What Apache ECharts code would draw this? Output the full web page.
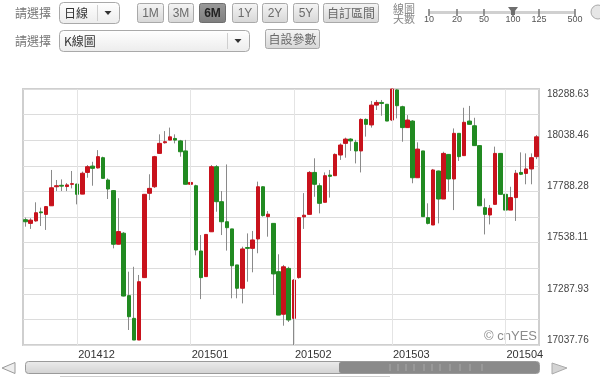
<!DOCTYPE html>
<html><head><meta charset="utf-8">
<script src="https://cdn.jsdelivr.net/npm/echarts@6/dist/echarts.min.js"></script>
<style>html,body{margin:0;padding:0;background:#fff}#c{width:600px;height:377px}</style>
</head><body><div id="c"></div>
<script>
const dates = [
'20141114','20141117','20141118','20141119','20141120','20141121','20141124','20141125','20141126','20141128',
'20141201','20141202','20141203','20141204','20141205','20141208','20141209','20141210','20141211','20141212',
'20141215','20141216','20141217','20141218','20141219','20141222','20141223','20141224','20141226','20141229',
'20141230','20141231','20150102','20150105','20150106','20150107','20150108','20150109','20150112','20150113',
'20150114','20150115','20150116','20150120','20150121','20150122','20150123','20150126','20150127','20150128',
'20150129','20150130','20150202','20150203','20150204','20150205','20150206','20150209','20150210','20150211',
'20150212','20150213','20150217','20150218','20150219','20150220','20150223','20150224','20150225','20150226',
'20150227','20150302','20150303','20150304','20150305','20150306','20150309','20150310','20150311','20150312',
'20150313','20150316','20150317','20150318','20150319','20150320','20150323','20150324','20150325','20150326',
'20150327','20150330','20150331','20150401','20150402','20150406','20150407','20150408','20150409','20150410'];
const opens = [
17650,17632,17644,17688,17676,17718,17811,17818,17812,17823,
17824,17775,17881,17912,17903,17953,17844,17792,17530,17584,
17279,17168,17062,17367,17779,17811,17974,18026,18039,18047,
18035,17986,17823,17816,17497,17372,17591,17909,17738,17640,
17605,17429,17315,17514,17510,17556,17811,17665,17632,17396,
17188,17412,17168,17367,17664,17676,17881,17816,17735,17868,
17865,17966,18023,18044,18028,17986,18140,18113,18210,18223,
18214,18137,18284,18202,18100,18132,17855,17986,17660,17624,
17888,17751,17969,17849,18072,17963,18132,18109,18012,17709,
17673,17725,17974,17774,17697,17758,17881,17876,17898,17958];
const closes = [
17640,17648,17684,17684,17714,17806,17816,17814,17820,17826,
17774,17877,17909,17901,17958,17852,17800,17530,17592,17277,
17176,17062,17347,17774,17803,17958,18023,18031,18055,18039,
17982,17823,17832,17502,17367,17578,17909,17738,17640,17611,
17425,17315,17507,17510,17551,17811,17670,17677,17385,17184,
17420,17160,17355,17660,17672,17881,17823,17730,17865,17862,
17969,18015,18044,18035,17986,18140,18116,18210,18223,18218,
18132,18288.63,18207,18100,18137,17855,17995,17665,17632,17893,
17751,17974,17849,18072,17958,18126,18116,18012,17718,17676,
17706,17974,17774,17697,17758,17877,17872,17898,17953,18055];
const lows = [
17616,17605,17640,17619,17600,17718,17790,17790,17790,17803,
17725,17775,17855,17816,17900,17852,17751,17510,17530,17275,
17111,17062,17062,17367,17746,17805,17974,18022,18039,18023,
17958,17823,17730,17476,17262,17370,17591,17689,17575,17499,
17266,17266,17241,17347,17393,17486,17665,17567,17282,17184,
17132,17150,17037.76,17362,17605,17676,17762,17681,17735,17758,
17865,17942,17953,17986,17925,17881,18056,18100,18186,18158,
18132,18132,18145,18031,18100,17828,17855,17665,17627,17624,
17632,17751,17787,17697,17937,17963,18116,18012,17718,17578,
17627,17725,17774,17583,17697,17644,17868,17823,17823,17946];
const highs = [
17660,17657,17735,17709,17717,17893,17844,17847,17829,17888,
17826,17885,17917,17933,17990,17958,17852,17795,17755,17590,
17396,17420,17380,17774,17872,17962,18067,18083,18100,18067,
18040,18040,17950,17821,17575,17580,17917,17917,17790,17920,
17605,17429,17518,17583,17595,17836,17813,17692,17632,17481,
17429,17420,17360,17662,17780,17888,17950,17828,17881,17893,
17974,18023,18051,18048,18040,18145,18145,18230,18235,18235,
18214,18288.63,18288,18207,18161,18137,18028,17986,17730,17898,
17890,17982,17969,18096,18072,18197,18206,18148,18012,17754,
17722,18007,17974,17774,17811,17893,17979,17974,17974,18064];
const rangeButtons = ['1M','3M','6M','1Y','2Y','5Y','自訂區間'];
const dayTicks = ['10','20','50','100','125','500'];

const UP = '#c8121c', DOWN = '#218a21', WICK = '#8a8a8a';
const yMin = Math.min(...lows), yMax = Math.max(...highs);
const yStep = (yMax - yMin) / 10;
const monthStarts = dates.filter((d, i) => i > 0 && d.slice(4, 6) !== dates[i - 1].slice(4, 6));

const cjk = '"Noto Sans CJK TC","Noto Sans CJK SC",sans-serif';
const lat = '"Liberation Sans",Arial,sans-serif';
function grad(a, b) { return new echarts.graphic.LinearGradient(0, 0, 0, 1, [{offset: 0, color: a}, {offset: 1, color: b}]); }
const G = [];
function text(x, y, s, font, fill, align) { G.push({type: 'text', x: x, y: y, style: {text: s, font: font, fill: fill, align: align || 'left', verticalAlign: 'middle'}}); }
function button(x, y, w, h, label, pressed) {
  G.push({type: 'rect', shape: {x: x + 0.5, y: y + 0.5, width: w, height: h, r: 2},
    style: {fill: pressed ? grad('#9a9a9a', '#7e7e7e') : grad('#f6f6f6', '#d6d6d6'), stroke: pressed ? '#6f6f6f' : '#a9a9a9', lineWidth: 1}});
  text(x + w / 2 + 0.5, y + h / 2 + 1, label, (pressed ? 'bold ' : '') + '12px ' + (/[A-Z0-9]/.test(label) ? lat : cjk), pressed ? '#222' : '#6a6a6a', 'center');
}
function dropdown(x, y, w, h, label, sepX) {
  G.push({type: 'rect', shape: {x: x + 0.5, y: y + 0.5, width: w, height: h, r: 4}, style: {fill: grad('#ffffff', '#ececec'), stroke: '#a9a9a9', lineWidth: 1}});
  G.push({type: 'line', shape: {x1: sepX + 0.5, y1: y + 3, x2: sepX + 0.5, y2: y + h - 2}, style: {stroke: '#cfcfcf', lineWidth: 1}});
  const ax = (sepX + x + w) / 2, ay = y + h / 2 + 0.5;
  G.push({type: 'polygon', shape: {points: [[ax - 3.5, ay - 2], [ax + 3.5, ay - 2], [ax, ay + 2]]}, style: {fill: '#333'}});
  text(x + 5, y + h / 2 + 1, label, '12px ' + cjk, '#333');
}
// header row 1
text(15, 13, '請選擇', '12px ' + cjk, '#777');
dropdown(59, 2, 60, 21, '日線', 97);
const btnX = [137, 168, 199, 232, 262, 293, 323], btnW = [26, 25, 26, 25, 25, 25, 55];
rangeButtons.forEach((b, i) => button(btnX[i], 3, btnW[i], 19, b, b === '6M'));
text(393, 8.5, '線圖', '11px ' + cjk, '#888');
text(393, 18.5, '天數', '11px ' + cjk, '#888');
G.push({type: 'line', shape: {x1: 429, y1: 12.5, x2: 575, y2: 12.5}, style: {stroke: '#d0d0d0', lineWidth: 3}});
const tickX = [429, 457, 484, 513, 539, 575];
dayTicks.forEach((t, i) => {
  G.push({type: 'line', shape: {x1: tickX[i], y1: 9, x2: tickX[i], y2: 16}, style: {stroke: '#777', lineWidth: 1.5}});
  text(tickX[i], 20, t, '9px ' + lat, '#555', 'center');
});
G.push({type: 'polygon', shape: {points: [[508, 7], [518, 7], [515, 11], [515, 15], [511, 15], [511, 11]]}, style: {fill: '#6e6e6e'}});
G.push({type: 'circle', shape: {cx: 598, cy: 12, r: 7}, style: {fill: '#e6e6e6', stroke: '#aaa', lineWidth: 1}});
// header row 2
text(15, 41, '請選擇', '12px ' + cjk, '#777');
dropdown(59, 30, 190, 21, 'K線圖', 227);
button(265, 29, 54, 19, '自設參數', false);
// watermark
text(537, 336, '© cnYES', '13px ' + lat, '#8c8c8c', 'right');
// bottom scrollbar
G.push({type: 'polygon', shape: {points: [[2, 368], [15, 362.5], [15, 373.5]]}, style: {fill: '#eeeeee', stroke: '#9a9a9a', lineWidth: 1}});
G.push({type: 'rect', shape: {x: 25.5, y: 361.5, width: 514, height: 12, r: 3}, style: {fill: grad('#ececec', '#d2d2d2'), stroke: '#9a9a9a', lineWidth: 1}});
G.push({type: 'rect', shape: {x: 339, y: 362, width: 200, height: 11, r: 2}, style: {fill: '#8a8a8a'}});
[390, 398, 406, 414, 424, 432, 440, 450, 460, 470, 482].forEach(x => G.push({type: 'line', shape: {x1: x, y1: 364, x2: x, y2: 371}, style: {stroke: '#a8a8a8', lineWidth: 1}}));
G.push({type: 'polygon', shape: {points: [[552, 363], [567, 368], [552, 374]]}, style: {fill: '#d4d4d4', stroke: '#aaa', lineWidth: 1}});
G.push({type: 'line', shape: {x1: 60, y1: 376.5, x2: 390, y2: 376.5}, style: {stroke: '#cfcfcf', lineWidth: 1}});

const chart = echarts.init(document.getElementById('c'), null, {renderer: 'canvas'});
chart.setOption({
  animation: false,
  backgroundColor: '#fff',
  grid: {left: 23, right: 61, top: 89, bottom: 32, show: true, borderColor: '#cfcfcf', borderWidth: 2, backgroundColor: '#fff'},
  xAxis: {
    type: 'category', data: dates, boundaryGap: true,
    axisLine: {show: false}, axisTick: {show: false}, splitLine: {show: false},
    axisLabel: {
      interval: (i) => i > 0 && dates[i].slice(4, 6) !== dates[i - 1].slice(4, 6),
      formatter: v => v.slice(0, 6), align: 'left', margin: 4, fontSize: 11, color: '#333', fontFamily: lat, padding: [0, 0, 0, 1]
    }
  },
  yAxis: {
    type: 'value', position: 'right', min: yMin, max: yMax, interval: yStep,
    axisLine: {show: false}, axisTick: {show: false},
    splitLine: {lineStyle: {color: '#dcdcdc', width: 1}},
    axisLabel: {
      margin: 8, color: '#444', fontSize: 10, fontFamily: lat, verticalAlign: 'bottom', verticalAlignMaxLabel: 'top',
      formatter: v => {
        const k = Math.round((v - yMin) / yStep);
        if (k === 10 && v !== yMax) return '';
        return k % 2 === 0 ? v.toFixed(2) : '';
      }
    }
  },
  series: [
    {
      type: 'candlestick', barWidth: 1,
      data: dates.map((d, i) => [opens[i], closes[i], lows[i], highs[i]]),
      itemStyle: {color: WICK, color0: WICK, borderColor: WICK, borderColor0: WICK, borderWidth: 1},
      markLine: {
        silent: true, symbol: ['none', 'none'], label: {show: false},
        lineStyle: {color: '#e4e4e4', width: 1, type: 'solid'},
        data: monthStarts.map(d => ({xAxis: d}))
      }
    },
    {
      type: 'candlestick', barWidth: 4,
      data: dates.map((d, i) => [opens[i], closes[i], Math.min(opens[i], closes[i]), Math.max(opens[i], closes[i])]),
      itemStyle: {color: UP, color0: DOWN, borderColor: UP, borderColor0: DOWN, borderWidth: 1}
    }
  ],
  graphic: {elements: G}
});
</script>
</body></html>
